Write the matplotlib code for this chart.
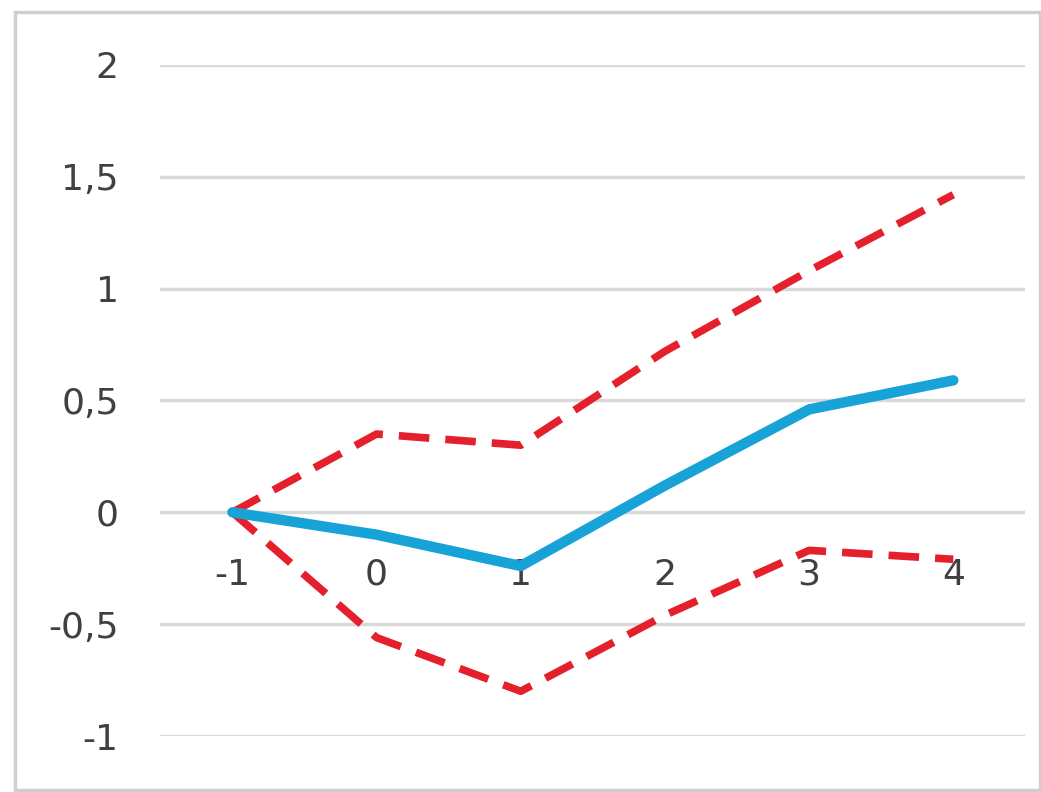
import matplotlib
matplotlib.use("Agg")
import matplotlib.pyplot as plt
from matplotlib.patches import Rectangle

categories = ["-1", "0", "1", "2", "3", "4"]
central = [0.0, -0.10, -0.24, 0.12, 0.46, 0.59]
upper = [0.0, 0.35, 0.30, 0.72, 1.08, 1.42]
lower = [0.0, -0.56, -0.80, -0.46, -0.17, -0.21]
y_ticks = [-1, -0.5, 0, 0.5, 1, 1.5, 2]
y_tick_labels = ["-1", "-0,5", "0", "0,5", "1", "1,5", "2"]

plt.rcParams["font.family"] = ["DejaVu Sans"]

fig = plt.figure(figsize=(10.41, 7.92), dpi=100)
fig.patch.set_facecolor("white")
fig.patches.append(Rectangle((15 / 1041, 2 / 792), 1 - 16 / 1041, 1 - 14 / 792,
                             transform=fig.transFigure, fill=False,
                             edgecolor="#cfcfcf", linewidth=2.5))

ax = fig.add_axes([0.154, 0.0707, 0.831, 0.8473])
x = list(range(len(categories)))

for yv in y_ticks:
    ax.axhline(yv, color="#d9d9d9", linewidth=2.5, zorder=1)

dash = (0, (4.0, 2.1))
ax.plot(x, upper, color="#e3202b", linewidth=5.5, linestyle=dash, zorder=3)
ax.plot(x, lower, color="#e3202b", linewidth=5.5, linestyle=dash, zorder=3)
ax.plot(x, central, color="#17a2d8", linewidth=7.5, solid_capstyle="round", zorder=4)

ax.set_xlim(-0.5, 5.5)
ax.set_ylim(-1, 2)
ax.set_xticks([])
ax.set_yticks(y_ticks)
ax.set_yticklabels(y_tick_labels, fontsize=26, color="#404040")
ax.tick_params(axis="y", length=0, pad=30)
for s in ax.spines.values():
    s.set_visible(False)

for xi, lab in zip(x, categories):
    ax.annotate(lab, xy=(xi, 0), xytext=(0, -45), textcoords="offset points",
                ha="center", va="center", fontsize=26, color="#404040", zorder=2)

fig.savefig("out.png", dpi=100, facecolor="white")
